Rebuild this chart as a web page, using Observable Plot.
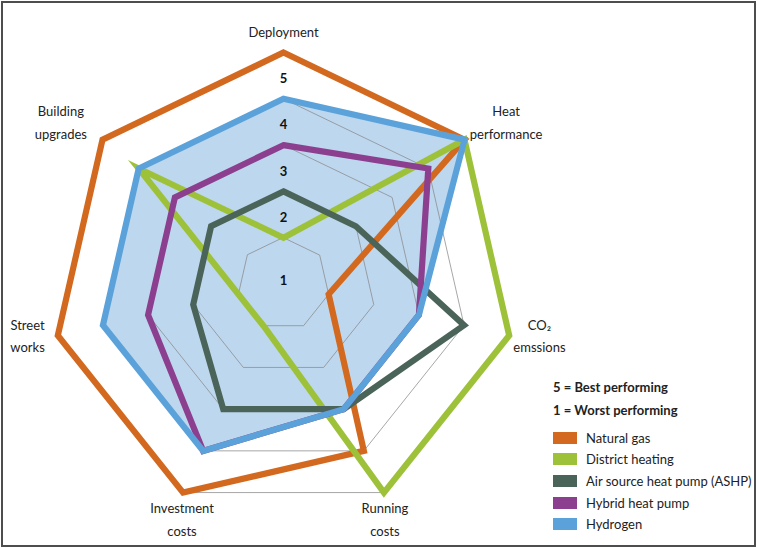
<!DOCTYPE html>
<html>
<head>
<meta charset="utf-8">
<script src="https://cdn.jsdelivr.net/npm/d3@7"></script>
<script src="https://cdn.jsdelivr.net/npm/@observablehq/plot@0.6"></script>
<style>
  body { margin: 0; background: #fff; font-family: Lato, "Open Sans", sans-serif; }
  #wrap { position: relative; width: 757px; height: 548px; overflow: hidden; }
  #chart svg { display: block; }
  #frame { position: absolute; left: 1px; top: 1px; width: 755px; height: 546px; box-sizing: border-box; border: 2px solid #4d4d4d; pointer-events: none; }
  #legend { position: absolute; left: 553px; top: 377px; font-size: 13px; color: #222; white-space: nowrap; }
  #legend .note { font-weight: bold; height: 22.5px; line-height: 20px; }
  #legend .item { display: flex; align-items: center; height: 21.6px; }
  #legend .sw { width: 24px; height: 12px; margin-right: 9px; }
  #legend .gap { height: 5px; }
</style>
</head>
<body>
<div id="wrap">
  <div id="chart"></div>
  <div id="legend"></div>
  <div id="frame"></div>
</div>
<script>
// ---- data ----
const axisLabels = ["Deployment", "Heat\nperformance", "CO₂\nemssions", "Running\ncosts", "Investment\ncosts", "Street\nworks", "Building\nupgrades"];
const seriesNames = ["Natural gas", "District heating", "Air source heat pump (ASHP)", "Hybrid heat pump", "Hydrogen"];
const naturalGas      = [5, 5, 1, 4, 5, 5, 5];
const districtHeating = [1, 5, 5, 5, 1, 1, 4];
const ashp            = [2, 2, 4, 3, 3, 2, 2];
const hybridHeatPump  = [3, 4, 3, 3, 4, 3, 3];
const hydrogen        = [4, 5, 3, 3, 4, 4, 4];
const ringLevels = [1, 2, 3, 4, 5];
const scaleLabels = ["1", "2", "3", "4", "5"];
const legendNotes = ["5 = Best performing", "1 = Worst performing"];
const colors = ["#d2691f", "#9dc23a", "#4b6459", "#8c3f8f", "#5ba2da"];
const hydrogenFill = "#bdd7ee";

// ---- geometry ----
const seriesValues = [naturalGas, districtHeating, ashp, hybridHeatPump, hydrogen];
const K = axisLabels.length;
const ang = i => 2 * Math.PI * i / K;
const polar = (v, i) => ({ x: v * Math.sin(ang(i)), y: v * Math.cos(ang(i)) });

const pts = seriesNames.flatMap((s, k) => seriesValues[k].map((v, i) => ({ series: s, ...polar(v, i) })));
const rings = ringLevels.flatMap(l => axisLabels.map((_, i) => ({ level: l, ...polar(l, i) })));
const scaleTicks = ringLevels.map((l, j) => ({ r: l === 1 ? 0.06 : l - 0.57, text: scaleLabels[j] }));
const R = 5.45;
const labelData = axisLabels.map((t, i) => {
  const a = ang(i), c = Math.cos(a), s = Math.sin(a);
  const ex = c > 0.3 ? 0.7 : (c > -0.5 ? 0.22 : -0.4);
  const ey = c < -0.5 ? 0.3 : 0;
  const lift = t.includes("\n") ? 0.14 : 0.04;
  return { text: t, x: (R + ex) * s, y: (R + ey) * c + lift };
});

const W = 757, H = 548, cx = 283, cy = 283.5, unit = 46.3;

const chart = Plot.plot({
  width: W, height: H, margin: 0,
  x: { domain: [-cx / unit, (W - cx) / unit], axis: null },
  y: { domain: [-(H - cy) / unit, cy / unit], axis: null },
  color: { domain: seriesNames, range: colors },
  style: { fontFamily: "Lato, 'Open Sans', sans-serif", background: "transparent" },
  marks: [
    Plot.line(pts.filter(d => d.series === seriesNames[4]), { x: "x", y: "y", curve: "linear-closed", fill: hydrogenFill, stroke: "none" }),
    Plot.line(rings, { x: "x", y: "y", z: "level", curve: "linear-closed", stroke: "#8a8a8a", strokeWidth: 0.75 }),
    Plot.line(pts, { x: "x", y: "y", z: "series", stroke: "series", curve: "linear-closed", strokeWidth: 6.2, strokeLinejoin: "miter", strokeMiterlimit: 10 }),
    Plot.text(scaleTicks, { x: d => 0, y: "r", text: "text", fontWeight: "bold", fontSize: 13, fill: "#111" }),
    Plot.text(labelData, { x: "x", y: "y", text: "text", fontSize: 13, fill: "#222", lineHeight: 1.75 })
  ]
});
document.getElementById("chart").appendChild(chart);

// ---- legend ----
const lg = document.getElementById("legend");
legendNotes.forEach(n => { const d = document.createElement("div"); d.className = "note"; d.textContent = n; lg.appendChild(d); });
const gap = document.createElement("div"); gap.className = "gap"; lg.appendChild(gap);
seriesNames.forEach((s, k) => {
  const it = document.createElement("div"); it.className = "item";
  const sw = document.createElement("span"); sw.className = "sw"; sw.style.background = colors[k];
  const tx = document.createElement("span"); tx.textContent = s;
  it.appendChild(sw); it.appendChild(tx); lg.appendChild(it);
});
</script>
</body>
</html>
